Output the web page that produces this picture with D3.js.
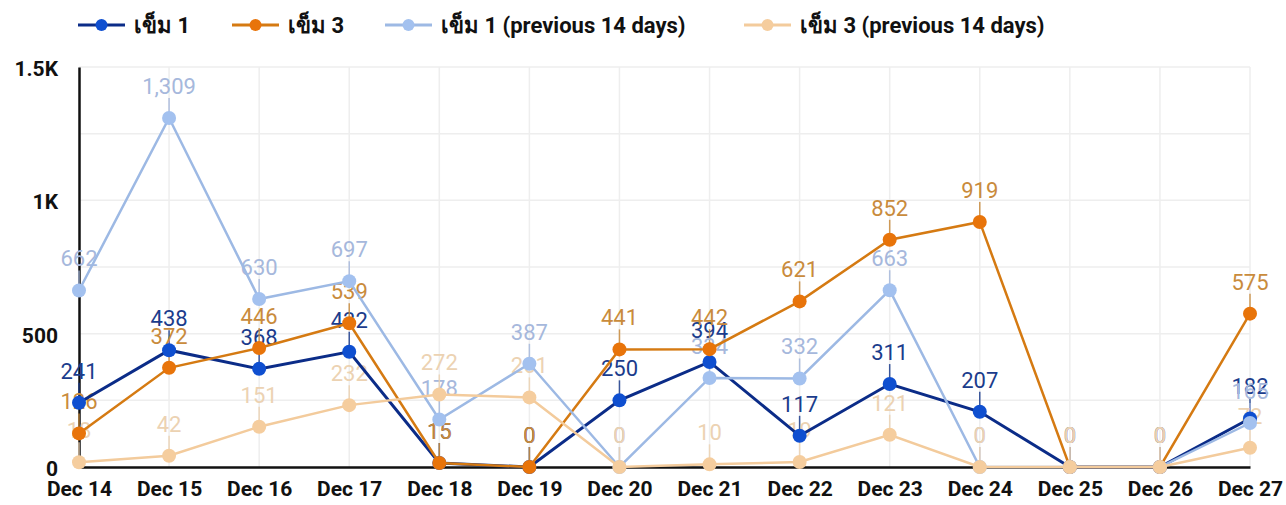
<!DOCTYPE html>
<html>
<head>
<meta charset="utf-8">
<script src="https://cdn.jsdelivr.net/npm/d3@7"></script>
<style>
  body { margin: 0; background: #fff; font-family: Roboto, "Noto Sans", sans-serif; }
  .axis text { font-weight: 700; font-size: 21px; fill: #111; font-family: Roboto, sans-serif; }
  .lbl { font-size: 22px; }
  .legend--text { font-size: 22px; font-weight: 700; fill: #111; }
</style>
</head>
<body>
<div id="graphic"></div>
<script>
// data
var dates = ["Dec 14","Dec 15","Dec 16","Dec 17","Dec 18","Dec 19","Dec 20","Dec 21","Dec 22","Dec 23","Dec 24","Dec 25","Dec 26","Dec 27"];
var dose1 = [241, 438, 368, 432, 15, 0, 250, 394, 117, 311, 207, 0, 0, 182];
var dose3 = [126, 372, 446, 539, 15, 0, 441, 442, 621, 852, 919, 0, 0, 575];
var dose1Prev = [662, 1309, 630, 697, 178, 387, 0, 334, 332, 663, 0, 0, 0, 165];
var dose3Prev = [18, 42, 151, 232, 272, 261, 0, 10, 19, 121, 0, 0, 0, 72];
var yTicks = [0, 500, 1000, 1500];
var yTickLabels = ["0", "500", "1K", "1.5K"];

// drawn bottom to top
var seriesList = [
  {name: "เข็ม 1", values: dose1, line: "#0b2c88", dot: "#0f4fd0", text: "#1b3c8c", w: 3},
  {name: "เข็ม 3", values: dose3, line: "#d57a12", dot: "#e8740a", text: "#c98b3c", w: 2.5},
  {name: "เข็ม 1 (previous 14 days)", values: dose1Prev, line: "#9db9e4", dot: "#a3c1ef", text: "#a6b8dc", w: 2.5},
  {name: "เข็ม 3 (previous 14 days)", values: dose3Prev, line: "#f3cb9c", dot: "#f5cd9e", text: "#ecd2b2", w: 2.5}
];

var width = 1286, height = 505;
var margin = {left: 79, right: 36, top: 67, bottom: 38};

var svg = d3.select("#graphic").append("svg")
  .attr("width", width).attr("height", height);

var x = d3.scalePoint().domain(dates).range([margin.left, width - margin.right]);
var y = d3.scaleLinear().domain([0, 1500]).range([height - margin.bottom, margin.top]);

// grid
var grid = svg.append("g");
grid.selectAll("line.h").data(d3.range(250, 1501, 250)).join("line")
  .attr("x1", margin.left).attr("x2", width - margin.right)
  .attr("y1", d => y(d)).attr("y2", d => y(d))
  .attr("stroke", "#eeeeee").attr("stroke-width", 1.5);
grid.selectAll("line.v").data(dates.slice(1)).join("line")
  .attr("x1", d => x(d)).attr("x2", d => x(d))
  .attr("y1", y(0)).attr("y2", y(1500))
  .attr("stroke", "#eeeeee").attr("stroke-width", 1.5);

// axes
var yAxis = d3.axisLeft(y).tickValues(yTicks).tickSize(0).tickPadding(21)
  .tickFormat((d, i) => yTickLabels[i]);
var gy = svg.append("g").attr("class", "axis").attr("transform", "translate(" + margin.left + ",0)").call(yAxis);
gy.select(".domain").attr("stroke", "#111").attr("stroke-width", 2.5);
gy.selectAll(".tick text").attr("dy", "0.4em");

var xAxis = d3.axisBottom(x).tickSize(0).tickPadding(14);
var gx = svg.append("g").attr("class", "axis").attr("transform", "translate(0," + y(0) + ")").call(xAxis);
gx.select(".domain").attr("stroke", "#111").attr("stroke-width", 2.5);

var fmt = d3.format(",");

// data labels with leader ticks (sit under the lines)
seriesList.forEach(function(s) {
  var g = svg.append("g");
  g.selectAll("line").data(s.values).join("line")
    .attr("x1", (d, i) => x(dates[i])).attr("x2", (d, i) => x(dates[i]))
    .attr("y1", d => y(d) - 6).attr("y2", d => y(d) - 20)
    .attr("stroke", s.text).attr("stroke-width", 1.5).attr("opacity", 0.85);
  g.selectAll("text").data(s.values).join("text")
    .attr("class", "lbl")
    .attr("x", (d, i) => x(dates[i])).attr("y", d => y(d) - 24)
    .attr("text-anchor", "middle").attr("fill", s.text)
    .text(d => fmt(d));
});

// lines and points
var line = d3.line().x((d, i) => x(dates[i])).y(d => y(d));

seriesList.forEach(function(s) {
  var g = svg.append("g");
  g.append("path").datum(s.values)
    .attr("d", line).attr("fill", "none")
    .attr("stroke", s.line).attr("stroke-width", s.w);
  g.selectAll("circle").data(s.values).join("circle")
    .attr("cx", (d, i) => x(dates[i])).attr("cy", d => y(d))
    .attr("r", 7).attr("fill", s.dot);
});

// legend
var legX = [78, 232, 385, 744];
var leg = svg.append("g").attr("transform", "translate(0,25)");
seriesList.forEach(function(s, i) {
  var item = leg.append("g").attr("transform", "translate(" + legX[i] + ",0)");
  item.append("line").attr("x1", 0).attr("x2", 47).attr("y1", 0).attr("y2", 0)
    .attr("stroke", s.line).attr("stroke-width", 3);
  item.append("circle").attr("cx", 23.5).attr("cy", 0).attr("r", 6).attr("fill", s.dot);
  item.append("text").attr("class", "legend--text").attr("x", 56).attr("y", 8).text(s.name);
});
</script>
</body>
</html>
